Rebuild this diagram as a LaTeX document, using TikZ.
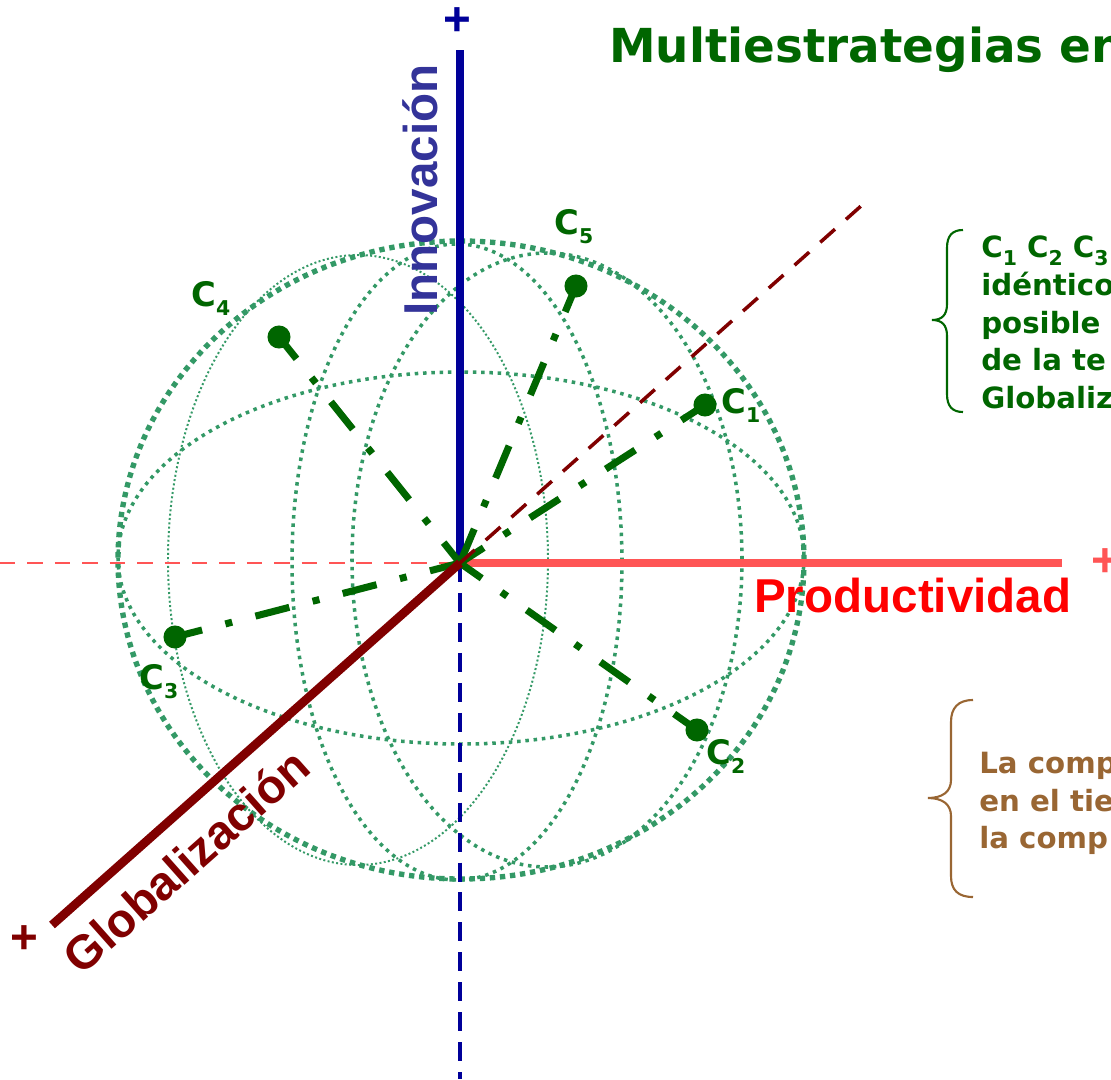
\documentclass[tikz,border=0pt]{standalone}
\usepackage{fontspec}
\setmainfont{DejaVu Sans}
\newfontfamily\arialf{Liberation Sans}
\definecolor{dgreen}{HTML}{006600}
\definecolor{globec}{HTML}{339966}
\definecolor{navyc}{HTML}{000099}
\definecolor{innovc}{HTML}{333399}
\definecolor{prodline}{HTML}{FF5555}
\definecolor{prodtext}{HTML}{FF0000}
\definecolor{maroonc}{HTML}{800000}
\definecolor{brownt}{HTML}{996633}
\newcommand\csub[1]{\raisebox{-7.1pt}{\fontsize{14.5pt}{15pt}\selectfont #1}}
\newcommand\bsub[1]{\raisebox{-5.7pt}{\fontsize{14.5pt}{15pt}\selectfont #1}}
\tikzset{
  gthick/.style={globec, line width=3.8pt, dash pattern=on 3.8pt off 3.4pt},
  gmed/.style={globec, line width=2.5pt, dash pattern=on 2.5pt off 3.4pt},
  gthin/.style={globec, line width=1.4pt, dash pattern=on 1.4pt off 1.7pt},
  spoke/.style={dgreen, line width=5pt, dash pattern=on 24.9pt off 17.1pt on 5pt off 17.1pt, dash phase=5pt},
  cdot/.style={circle, fill=dgreen, inner sep=0pt, minimum size=16.4pt},
  clabel/.style={dgreen, inner sep=0pt, font=\fontsize{24pt}{26pt}\selectfont\bfseries, anchor=base west},
  axislabel/.style={inner sep=0pt, font=\arialf\fontsize{33.8pt}{36pt}\selectfont\bfseries},
  plussign/.style={inner sep=0pt, font=\arialf\fontsize{33.8pt}{36pt}\selectfont\bfseries},
  sidetext/.style={inner sep=0pt, anchor=base west, font=\fontsize{20.8pt}{22pt}\selectfont\bfseries},
  bracepath/.style={line width=1.5pt}
}
\begin{document}
\begin{tikzpicture}[x=0.025cm,y=-0.025cm]
\useasboundingbox (0,0) rectangle (1111,1079);
\clip (0,0) rectangle (1111,1079);
\fill[white] (0,0) rectangle (1111,1079);

% globe
\draw[gthin] (358,560) ellipse [x radius=190, y radius=305];
\draw[gmed] (547,560) ellipse [x radius=195, y radius=307];
\draw[gmed] (457,562) ellipse [x radius=165, y radius=318];
\draw[gmed] (461,558) ellipse [x radius=343, y radius=186];
\draw[gthick] (461,560) ellipse [x radius=343, y radius=319];

% axes coordinates
\coordinate (O) at (460,563);
\coordinate (itop) at (460,50);
\coordinate (ibot) at (460,1079);
\coordinate (pright) at (1062,563);
\coordinate (pleft) at (0,563);
\coordinate (gend) at (52,925);
\coordinate (gback) at (870,198);

% Innovacion axis
\draw[navyc, line width=2.5pt, dash pattern=on 13.5pt off 7.8pt] (O) -- (ibot);
\draw[navyc, line width=5.2pt] (O) -- (itop);
% Productividad axis
\draw[prodline, line width=2.1pt, dash pattern=on 11pt off 8.5pt] (pleft) -- (O);
\draw[prodline, line width=5.9pt] (O) -- (pright);

% points
\node[cdot] (c1) at (705,405) {};
\node[cdot] (c2) at (697,730) {};
\node[cdot] (c3) at (175,637) {};
\node[cdot] (c4) at (279,337) {};
\node[cdot] (c5) at (576,286) {};
\foreach \c in {c1,c2,c3,c4,c5} \draw[spoke] (\c.center) -- (O);

% Globalizacion axis
\draw[maroonc, line width=2.5pt, dash pattern=on 14pt off 10.5pt] (O) -- (gback);
\draw[maroonc, line width=6.2pt] (O) -- (gend);

% point labels
\node[clabel] (l1) at (721,413) {C\csub{1}};
\node[clabel] (l2) at (706,764) {C\csub{2}};
\node[clabel] (l3) at (139,689) {C\csub{3}};
\node[clabel] (l4) at (191,306) {C\csub{4}};
\node[clabel] (l5) at (554,234) {C\csub{5}};

% axis labels and signs
\node[axislabel, innovc, rotate=90] (tinn) at (420,190) {Innovación};
\node[axislabel, prodtext, anchor=base west] (tprod) at (754,612) {Productividad};
\node[axislabel, maroonc, rotate=41.6] (tglob) at (186,861) {Globalización};
\node[plussign, navyc] (pinn) at (457,22) {+};
\node[plussign, prodline] (pprod) at (1105,563) {+};
\node[plussign, maroonc] (pglob) at (24,940) {+};

% title
\node[inner sep=0pt, anchor=base west, dgreen, font=\fontsize{33.3pt}{36pt}\selectfont\bfseries] (title) at (609,62) {Multiestrategias en};

% right block 1
\draw[dgreen, bracepath] (963,230) .. controls (952,230) and (947,236) .. (947,248) -- (947,304) .. controls (947,315) and (942,320) .. (932,320) .. controls (942,320) and (947,325) .. (947,336) -- (947,394) .. controls (947,406) and (952,412) .. (963,412);
\node[sidetext, dgreen] (b1a) at (981,257) {C\bsub{1} C\bsub{2} C\bsub{3}};
\node[sidetext, dgreen] (b1b) at (981,295) {idéntico};
\node[sidetext, dgreen] (b1c) at (981,333) {posible};
\node[sidetext, dgreen] (b1d) at (981,370) {de la te};
\node[sidetext, dgreen] (b1e) at (981,408) {Globaliz};

% right block 2
\draw[brownt, bracepath] (973,700) .. controls (958,700) and (951,708) .. (951,722) -- (951,780) .. controls (951,792) and (942,798) .. (928,798) .. controls (942,798) and (951,804) .. (951,816) -- (951,876) .. controls (951,890) and (958,897) .. (973,897);
\node[sidetext, brownt] (b2a) at (979,773) {La comp};
\node[sidetext, brownt] (b2b) at (979,811) {en el tie};
\node[sidetext, brownt] (b2c) at (979,848) {la comp};
\end{tikzpicture}
\end{document}
